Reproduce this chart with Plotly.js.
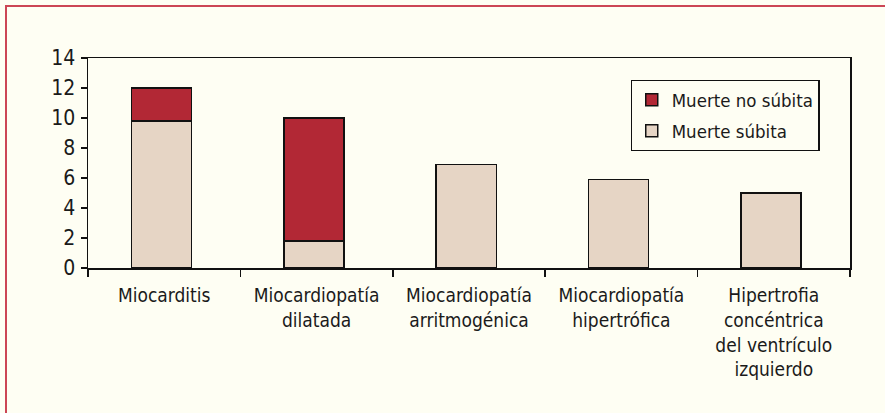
<!DOCTYPE html>
<html>
<head>
<meta charset="utf-8">
<script src="https://cdn.plot.ly/plotly-3.0.1.min.js"></script>
<style>
html,body{margin:0;padding:0;background:#FEFEF3;}
#frame{position:absolute;left:5px;top:5px;width:880px;height:408px;border-left:2px solid #CC4655;border-top:2px solid #CC4655;box-sizing:border-box;}
#chart{position:absolute;left:0;top:0;width:885px;height:413px;}
</style>
</head>
<body>
<div id="frame"></div>
<div id="chart"></div>
<script>
const categories = ["Miocarditis", "Miocardiopatía<br>dilatada", "Miocardiopatía<br>arritmogénica", "Miocardiopatía<br>hipertrófica", "Hipertrofia<br>concéntrica<br>del ventrículo<br>izquierdo"];
const muerteSubita = [9.8, 1.8, 6.9, 5.9, 5.0];
const muerteNoSubita = [2.2, 8.2, null, null, null];
const yTicks = [0, 2, 4, 6, 8, 10, 12, 14];

const FONT = "'Liberation Sans Narrow', 'Arial Narrow', 'DejaVu Sans Condensed', sans-serif";
const barStyle = {line: {color: "#111", width: 1.5}};

const traces = [
  {type: "bar", name: "Muerte súbita", x: categories, y: muerteSubita,
   width: 0.394, offset: -0.215, legendgroup: "a", legendrank: 2,
   marker: Object.assign({color: "#E6D5C5"}, barStyle)},
  {type: "bar", name: "Muerte no súbita", x: categories, y: muerteNoSubita,
   width: 0.394, offset: -0.215, legendgroup: "b", legendrank: 1,
   marker: Object.assign({color: "#B22835"}, barStyle)}
];

const layout = {
  width: 885, height: 413,
  margin: {l: 88, r: 35, t: 58, b: 145},
  paper_bgcolor: "rgba(0,0,0,0)",
  plot_bgcolor: "#FEFEF3",
  barmode: "stack",
  font: {family: FONT, color: "#1a1a1a", size: 20},
  showlegend: true,
  legend: {x: 0.712, y: 0.895, xanchor: "left", yanchor: "top",
           bgcolor: "#FEFEF3", bordercolor: "#111", borderwidth: 1.2,
           font: {family: FONT, size: 18.5, color: "#1a1a1a"},
           traceorder: "grouped", tracegroupgap: 4},
  xaxis: {
    type: "category",
    tickson: "boundaries", ticks: "outside", ticklen: 7, tickwidth: 1.5, tickcolor: "#111",
    showline: true, linecolor: "#111", linewidth: 1.5, mirror: true,
    showgrid: false, zeroline: false,
    tickfont: {family: FONT, size: 19, color: "#1a1a1a"},
    ticklabelstandoff: 10,
    fixedrange: true
  },
  yaxis: {
    range: [0, 14], tickvals: yTicks, ticktext: yTicks.map(String),
    ticks: "outside", ticklen: 6, tickwidth: 1.5, tickcolor: "#111",
    showline: true, linecolor: "#111", linewidth: 1.5, mirror: true,
    showgrid: false, zeroline: false,
    tickfont: {family: FONT, size: 21, color: "#1a1a1a"},
    ticklabelstandoff: 1,
    fixedrange: true
  }
};

Plotly.newPlot("chart", traces, layout, {displayModeBar: false, staticPlot: true});
</script>
</body>
</html>
